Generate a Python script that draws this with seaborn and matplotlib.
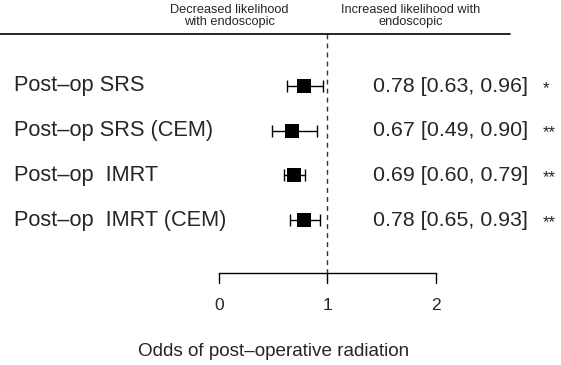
import matplotlib
matplotlib.use("Agg")
import matplotlib.pyplot as plt
import seaborn as sns
import pandas as pd

labels = ["Post\u2013op SRS", "Post\u2013op SRS (CEM)", "Post\u2013op  IMRT", "Post\u2013op  IMRT (CEM)"]
odds = [0.78, 0.67, 0.69, 0.78]
lower = [0.63, 0.49, 0.60, 0.65]
upper = [0.96, 0.90, 0.79, 0.93]
stars = ["*", "**", "**", "**"]
xticks = [0, 1, 2]

df = pd.DataFrame({"label": labels, "odds": odds, "lower": lower, "upper": upper,
                   "stars": stars, "row": range(len(labels))})

sns.set_theme(style="white")
plt.rcParams["font.family"] = ["Liberation Sans", "DejaVu Sans"]

W, H = 561, 365
fig = plt.figure(figsize=(W / 100, H / 100), dpi=100)
ax = fig.add_axes([0, 0, 1, 1])
ax.set_axis_off()

# pixel mapping helpers
x0px, unit = 219.0, 108.5
row0px, rowstep = 86.0, 44.67
def py(p):
    return (p - row0px) / rowstep
def px(p):
    return (p - x0px) / unit
ax.set_xlim(px(0), px(W))
ax.set_ylim(py(H), py(0))

# CI bars with caps
ax.errorbar(df["odds"], df["row"],
            xerr=[df["odds"] - df["lower"], df["upper"] - df["odds"]],
            fmt="none", ecolor="black", elinewidth=1.0, capsize=4, capthick=1.0, zorder=2)
sns.scatterplot(data=df, x="odds", y="row", marker="s", s=95, color="black",
                edgecolor="black", linewidth=0, ax=ax, zorder=3, legend=False)

# reference dashed line
ax.plot([1, 1], [py(34), py(273)], color="#333333", lw=1.0, ls=(0, (3.5, 3)), zorder=1)
# top line
ax.plot([px(0), px(510)], [py(34), py(34)], color="black", lw=1.2)

# bottom axis
ax.plot([xticks[0], xticks[-1]], [py(273), py(273)], color="black", lw=1.0)
for t in xticks:
    ax.plot([t, t], [py(273), py(283)], color="black", lw=1.0)
    ax.text(t, py(305), str(t), ha="center", va="center", fontsize=12.5)

ax.text(px(274), py(352), "Odds of post\u2013operative radiation",
        ha="center", va="center", fontsize=13.6)

# row labels and estimates
for _, r in df.iterrows():
    ax.text(px(14), r["row"], r["label"], ha="left", va="center", fontsize=15.7)
    ax.text(px(373), r["row"],
            f"{r['odds']:.2f} [{r['lower']:.2f}, {r['upper']:.2f}]",
            ha="left", va="center", fontsize=15.4)
    ax.text(px(543), r["row"] + 0.05, r["stars"], ha="left", va="center", fontsize=12)

# header
ax.text(px(229), py(16), "Decreased likelihood\nwith endoscopic",
        ha="center", va="center", fontsize=9.2, linespacing=1.05)
ax.text(px(411), py(16), "Increased likelihood with\nendoscopic",
        ha="center", va="center", fontsize=9.2, linespacing=1.05)

fig.savefig("out.png", dpi=100)
